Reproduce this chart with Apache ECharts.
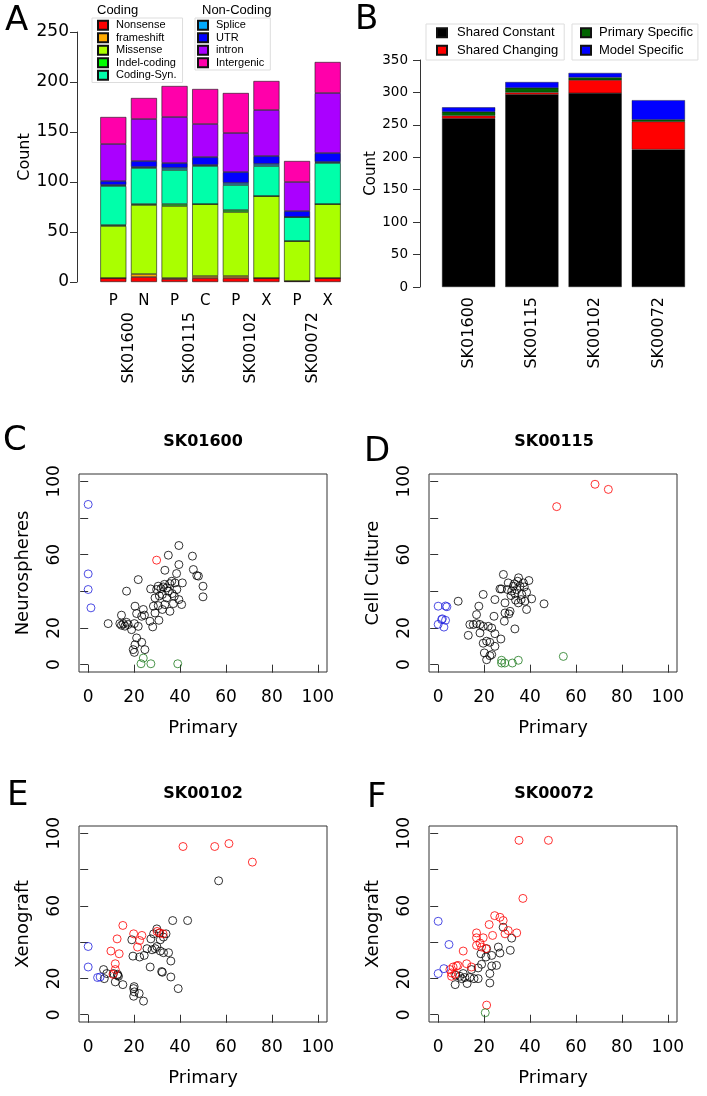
<!DOCTYPE html>
<html><head><meta charset="utf-8">
<script src="https://cdn.jsdelivr.net/npm/echarts@6/dist/echarts.min.js"></script>
<style>html,body{margin:0;padding:0;background:#fff}#c{width:707px;height:1096px}</style>
</head><body><div id="c"></div>
<script>
// ---------- Panel A data ----------
const aCategories = ['P','N','P','C','P','X','P','X'];
const aSamples = ['SK01600','SK00115','SK00102','SK00072'];
const codingNames = ['Nonsense','frameshift','Missense','Indel-coding','Coding-Syn.'];
const nonCodingNames = ['Splice','UTR','intron','Intergenic'];
const nonsense    = [4,5,3,4,4,4,1,4];
const frameshift  = [0,3,1,2,2,0,0,0];
const missense    = [52,69,72,72,64,82,40,74];
const indelCoding = [1,1,2,0,2,0,0,0];
const codingSyn   = [39,36,34,38,25,30,24,41];
const splice      = [1,1,2,1,2,2,0,1];
const utr         = [4,6,5,8,11,8,6,9];
const intron      = [37,42,46,33,39,46,29,60];
const intergenic  = [27,21,31,35,40,29,21,31];

// ---------- Panel B data ----------
const bSamples = ['SK01600','SK00115','SK00102','SK00072'];
const bNames = ['Shared Constant','Shared Changing','Primary Specific','Model Specific'];
const sharedConstant  = [260,297,299,212];
const sharedChanging  = [4,3,20,43];
const primarySpecific = [6,7,4,3];
const modelSpecific   = [7,9,7,30];

// ---------- Scatter data [Primary, Model] ----------
const cBlack = [[39.5,65],[34.9,59.7],[45.4,59.2],[39.5,54.6],[33.4,51.5],[45.8,51.9],[38.5,49.7],[47.3,48.6],[48,48.3],[21.8,46.4],[50,42.8],[50,37],[16.7,40.1],[27.2,41.3],[30.5,42.8],[29.8,41],[32.7,42.4],[34.2,41.9],[36.4,45.5],[37.8,44.6],[41,44.6],[34.9,40.1],[36.6,38.8],[32.3,38.3],[29.1,36.4],[34.2,36.4],[37.5,37.3],[39.5,35.5],[40.7,32.8],[37.1,33.3],[33.4,32.8],[30.5,32.2],[28.4,31.9],[35.6,29.1],[32.3,30.1],[29.1,28.2],[24,30.1],[20.4,31.9],[21.1,27.9],[23.3,26.4],[14.5,27],[26.9,23.7],[30.8,24.2],[28.1,20.6],[8.7,22.4],[13.8,22.4],[15.3,22.4],[16.7,23.1],[17.4,21.9],[20.1,22.4],[21.8,20.9],[18.9,19.1],[21.1,14.6],[23.3,12.2],[20.4,10.9],[24.7,8.2],[20.1,6.7],[19.6,8.2],[31.7,41.5],[33.2,43.8],[35.5,44.2],[31,37.5],[14.5,21.5],[16,21],[24.5,27],[38.6,41]];
const cRed = [[29.8,57]];
const cBlue = [[0,87.4],[0,49.5],[0,41],[1.2,31]];
const cGreen = [[24,3.6],[23,0.5],[27.3,0.5],[39,0.5]];

const dBlack = [[8.7,34.6],[28.4,49.2],[35,47.4],[39.5,45.9],[26.9,41.3],[27.6,41.3],[30.5,44.6],[32.7,42.8],[32,40.1],[34.2,41],[35.6,42.8],[37.5,42.4],[33.4,38.8],[36.4,38.3],[38.5,39.5],[40.7,35.9],[46.1,33.2],[38.5,30.1],[34.9,33.7],[31.3,29.1],[29.1,28.2],[30.8,27.7],[28.8,23.7],[24.3,26.4],[24.7,35.5],[29.1,33.7],[19.6,38.3],[17.7,31.9],[16.7,27.3],[13.8,21.9],[15.3,21.9],[16.7,22.4],[18.2,21.9],[19.6,20.9],[21.8,20.9],[23.3,20],[13.1,16],[18.2,17.3],[24.7,16.9],[27.3,14],[21.1,12.8],[22.5,12.2],[19.6,11.7],[24.7,10],[20.1,6.4],[22.5,4.9],[21.1,2.7],[33.4,19.5],[23.3,5.5],[33.2,44.1],[34.6,45.5],[37.1,44.6],[30.2,41],[36.1,35.5],[33.7,35.2],[31.7,37.7],[37.8,34.6]];
const dRed = [[51.6,86.2],[68.3,98.4],[74.1,95.6]];
const dBlue = [[0,31.9],[3.2,32],[3.8,31.6],[1.5,24.6],[3.2,24.2],[0,22],[2.5,20.5],[1.8,25]];
const dGreen = [[27.6,2.4],[29,0.9],[32.3,0.9],[34.9,2.4],[27.6,0.9],[54.5,4.5]];

const eBlack = [[56.8,73.8],[36.8,51.9],[43.3,51.9],[29.9,47.3],[28.5,44.6],[27.3,41.8],[32.8,42.8],[31.4,41.3],[19,41.3],[29.2,36.4],[27.8,35.8],[31.4,35.1],[32.8,34.2],[35,34.2],[36,29.6],[24.4,32.7],[22.4,31.8],[19.5,32.3],[27,26.3],[32.3,23.4],[36,20.8],[39.2,14.4],[24.1,7.5],[19.8,14.4],[20.1,12.6],[19.8,10.2],[22.2,11.7],[15.1,16.6],[11.8,18.1],[12.8,21.7],[6.7,24.9],[7,19.9],[8.1,22.7],[11,22.7],[12.8,22.3],[13.2,21.2],[25.6,36.4],[29.9,37.6],[33.9,44.6],[32,23.8],[31,45],[20,15.5]];
const eRed = [[41.3,92.7],[55.1,92.7],[61.3,94.3],[71.5,84.1],[15.1,49.2],[12.6,41.8],[9.9,35.1],[13.5,33.6],[19.8,44.6],[23.4,43.7],[22.4,40.9],[21.5,37.3],[11.8,28.1],[11.8,24.9],[10.8,22.3],[31.1,45.1],[32.6,44.6],[30,45.9]];
const eBlue = [[0,37.6],[0,26.3],[4.1,20.5],[5.2,20.8]];
const eGreen = [];

const fBlack = [[28.3,48.2],[32,42.2],[26.2,37.3],[31.4,35.5],[26.9,34],[23.3,32.7],[21.1,36.4],[20.8,31.8],[18.6,33.6],[18.9,27.8],[23.3,26.9],[25.4,27.2],[17.4,25.8],[14.5,24.9],[10.9,22.7],[7.7,21.7],[9.4,21.2],[11.6,20.5],[13.8,20.5],[15.6,19.9],[17.4,19.9],[12.6,17.2],[7.4,16.6],[22.5,17.5],[22.5,22.7],[10.2,19.9]];
const fRed = [[35.2,96.1],[48,96.1],[36.9,64.1],[24.6,54.6],[26.9,53.7],[28.3,51.9],[22.2,49.7],[16.7,45.1],[16.7,42.4],[19.6,42.4],[23.7,43.7],[29.1,44.6],[34.2,45.1],[30.5,46.4],[16.7,38.2],[18.2,39.5],[18.9,37.3],[20.8,36.4],[10.9,35.1],[12.4,28.1],[8,26.9],[6.5,26.3],[5.8,23],[7.3,22.3],[5.8,21.2],[14.5,26.3],[21.1,5.3],[8.7,27.2],[5.1,24.9]];
const fBlue = [[0,51.5],[4.7,38.7],[2.5,25.4],[0,22.7]];
const fGreen = [[20.5,1.1]];

const scatterXTicks = [0,20,40,60,80,100];
const scatterYLabels = [0,20,60,100];

// ---------- styles ----------
const FONT = 'DejaVu Sans';
const LFONT = 'Liberation Sans';
const AX = '#333';
const aColors = ['#FF0000','#FFAA00','#AAFF00','#00FF00','#00FFAA','#00AAFF','#0000FF','#AA00FF','#FF00AA'];
const bColors = ['#000000','#FF0000','#006400','#0000FF'];
const ptColors = ['#000000','#FF0000','#2222DD','#1E7B1E'];

const aSeriesValues = [nonsense, frameshift, missense, indelCoding, codingSyn, splice, utr, intron, intergenic];
const bSeriesValues = [sharedConstant, sharedChanging, primarySpecific, modelSpecific];

const grids = [
  {left:98, top:32, width:245, height:250},   // A
  {left:437, top:60, width:253, height:227},  // B
  {left:79, top:474, width:248, height:198},  // C
  {left:429, top:474, width:248, height:198}, // D
  {left:79, top:826, width:248, height:196},  // E
  {left:429, top:826, width:248, height:196}  // F
];

const panels = [
  {title:'SK01600', yName:'Neurospheres', sets:[cBlack,cRed,cBlue,cGreen]},
  {title:'SK00115', yName:'Cell Culture', sets:[dBlack,dRed,dBlue,dGreen]},
  {title:'SK00102', yName:'Xenograft', sets:[eBlack,eRed,eBlue,eGreen]},
  {title:'SK00072', yName:'Xenograft', sets:[fBlack,fRed,fBlue,fGreen]}
];

const xAxes = [
  {gridIndex:0, type:'category', data:aCategories, axisLine:{show:false}, axisTick:{show:false},
   axisLabel:{interval:0, fontSize:15, fontFamily:FONT, color:'#000', margin:12}},
  {gridIndex:0, type:'category', data:aSamples, position:'bottom', axisLine:{show:false}, axisTick:{show:false},
   axisLabel:{interval:0, rotate:90, fontSize:16, fontFamily:FONT, color:'#000', margin:30}},
  {gridIndex:1, type:'category', data:bSamples, axisLine:{show:false}, axisTick:{show:false},
   axisLabel:{interval:0, rotate:90, fontSize:16, fontFamily:FONT, color:'#000', margin:10}}
];
const yAxes = [
  {gridIndex:0, type:'value', min:0, max:250, interval:50, offset:21, splitLine:{show:false},
   axisLine:{show:true, lineStyle:{color:AX}}, axisTick:{show:true, length:7, lineStyle:{color:AX}},
   axisLabel:{fontSize:17, fontFamily:FONT, color:'#000', margin:8},
   name:'Count', nameLocation:'middle', nameRotate:90, nameGap:36,
   nameTextStyle:{fontSize:16, fontFamily:FONT, color:'#000'}},
  {gridIndex:1, type:'value', min:0, max:350, interval:50, offset:17, splitLine:{show:false},
   axisLine:{show:true, lineStyle:{color:AX}}, axisTick:{show:true, length:7, lineStyle:{color:AX}},
   axisLabel:{fontSize:13.5, fontFamily:FONT, color:'#000', margin:12},
   name:'Count', nameLocation:'middle', nameRotate:90, nameGap:41,
   nameTextStyle:{fontSize:15, fontFamily:FONT, color:'#000'}}
];

const series = [];
[...codingNames, ...nonCodingNames].forEach((n,i) => {
  series.push({type:'bar', name:n, stack:'a', xAxisIndex:0, yAxisIndex:0, data:aSeriesValues[i],
    barCategoryGap:'15%', silent:true,
    itemStyle:{color:aColors[i], borderColor:'#111', borderWidth:0.6}});
});
bNames.forEach((n,i) => {
  series.push({type:'bar', name:n, stack:'b', xAxisIndex:2, yAxisIndex:1, data:bSeriesValues[i],
    barCategoryGap:'16%', silent:true,
    itemStyle:{color:bColors[i], borderColor:'#111', borderWidth:0.4}});
});

function label(t, x, y, font, align) {
  return {type:'text', x:x, y:y, style:{text:t, font:font, fill:'#000',
    textAlign:align, textVerticalAlign:'middle', align:align, verticalAlign:'middle'}};
}
const big = '34px "' + FONT + '"';
const graphic = [
  label('A', 5, 21, big, 'left'),
  label('B', 355, 20, big, 'left'),
  label('C', 3, 441, big, 'left'),
  label('D', 364, 452, big, 'left'),
  label('E', 7, 796, big, 'left'),
  label('F', 367, 798, big, 'left'),
  label('Coding', 97, 10, '13px "' + LFONT + '"', 'left'),
  label('Non-Coding', 202, 10, '13px "' + LFONT + '"', 'left')
];
const titlePos = [[203,442],[554,442],[203,794],[554,794]];

panels.forEach((p,k) => {
  const g = k + 2;
  grids[g].show = true;
  grids[g].borderColor = '#333';
  grids[g].borderWidth = 1;
  grids[g].backgroundColor = 'transparent';
  xAxes.push({gridIndex:g, type:'value', min:-4, max:104, splitLine:{show:false}, axisLine:{show:false},
    axisTick:{show:true, length:8, customValues:scatterXTicks, lineStyle:{color:AX}},
    axisLabel:{customValues:scatterXTicks, fontSize:17, fontFamily:FONT, color:'#000', margin:17},
    name:'Primary', nameLocation:'middle', nameGap:47,
    nameTextStyle:{fontSize:18, fontFamily:FONT, color:'#000'}});
  yAxes.push({gridIndex:g, type:'value', min:-4, max:104, splitLine:{show:false}, axisLine:{show:false},
    axisTick:{show:true, length:8, customValues:scatterXTicks, lineStyle:{color:AX}},
    axisLabel:{customValues:scatterYLabels, rotate:90, fontSize:17, fontFamily:FONT, color:'#000', margin:16},
    name:p.yName, nameLocation:'middle', nameRotate:90, nameGap:47,
    nameTextStyle:{fontSize:18, fontFamily:FONT, color:'#000'}});
  p.sets.forEach((d,j) => {
    series.push({type:'scatter', xAxisIndex:g+1, yAxisIndex:g, data:d, symbol:'circle', symbolSize:8, silent:true,
      itemStyle:{color:'rgba(0,0,0,0)', borderColor:ptColors[j], borderWidth:1}});
  });
  graphic.push(label(p.title, titlePos[k][0], titlePos[k][1], 'bold 16px "' + FONT + '"', 'center'));
});

const legendCommon = {orient:'vertical', selectedMode:false, icon:'rect', itemGap:0};
const option = {
  animation:false,
  backgroundColor:'#fff',
  textStyle:{fontFamily:FONT},
  grid:grids, xAxis:xAxes, yAxis:yAxes, series:series, graphic:graphic,
  legend:[
    Object.assign({}, legendCommon, {data:codingNames, left:92, top:18, padding:[1,6,1,5], itemWidth:10, itemHeight:9,
      borderColor:'#ddd', borderWidth:1,
      textStyle:{fontSize:11, lineHeight:12.5, fontFamily:LFONT, color:'#000', padding:[0,0,0,3]}}),
    Object.assign({}, legendCommon, {data:nonCodingNames, left:195, top:18, padding:[1,6,1,2], itemWidth:10, itemHeight:9,
      borderColor:'#ddd', borderWidth:1,
      textStyle:{fontSize:11, lineHeight:12.5, fontFamily:LFONT, color:'#000', padding:[0,0,0,3]}}),
    Object.assign({}, legendCommon, {data:bNames.slice(0,2), left:426, top:24, padding:[0,6,1,10], itemWidth:10, itemHeight:9,
      borderColor:'#ddd', borderWidth:1,
      textStyle:{fontSize:13, lineHeight:17.5, fontFamily:LFONT, color:'#000', padding:[0,0,0,5]}}),
    Object.assign({}, legendCommon, {data:bNames.slice(2), left:572, top:24, padding:[0,5,1,8], itemWidth:10, itemHeight:9,
      borderColor:'#ddd', borderWidth:1,
      textStyle:{fontSize:13, lineHeight:17.5, fontFamily:LFONT, color:'#000', padding:[0,0,0,3]}})
  ]
};
const chart = echarts.init(document.getElementById('c'));
chart.setOption(option);
</script></body></html>
